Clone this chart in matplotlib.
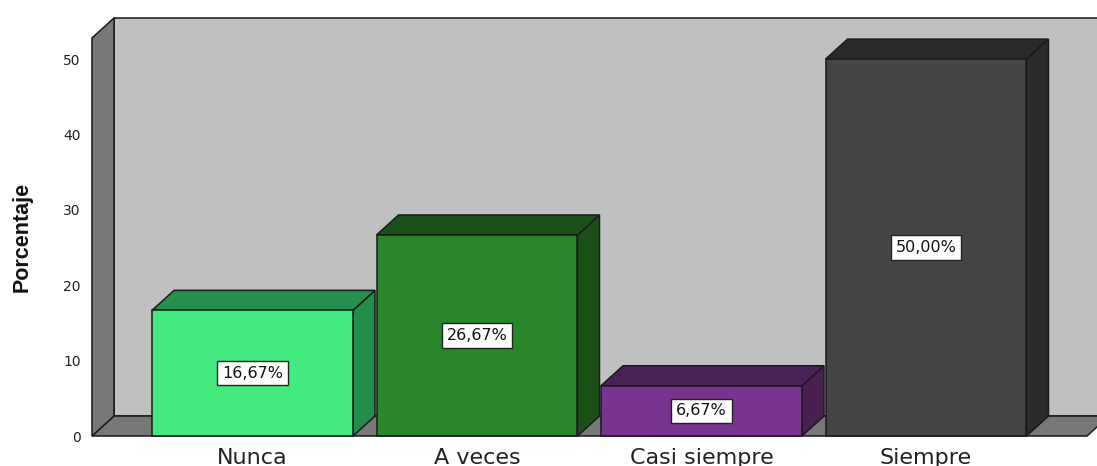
import matplotlib
matplotlib.use("Agg")
import matplotlib.pyplot as plt
from matplotlib.patches import Polygon, Rectangle
from matplotlib import font_manager

categories = ["Nunca", "A veces", "Casi siempre", "Siempre"]
values = [16.67, 26.67, 6.67, 50.00]
labels = ["16,67%", "26,67%", "6,67%", "50,00%"]
yticks = [0, 10, 20, 30, 40, 50]

front_colors = ["#41E97E", "#29862B", "#783590", "#454548"]
top_colors = ["#26914F", "#1B5119", "#4A2157", "#2A2A2A"]
side_colors = ["#238D4B", "#1A4F17", "#482050", "#2B2D2C"]

W, H = 1097, 466
fig = plt.figure(figsize=(W / 100, H / 100), dpi=100)
fig.patch.set_facecolor("white")

# front-plane of the axes in pixels
left_px, right_px, bottom_px, top_px = 92, 1087, 436, 38
ax = fig.add_axes([left_px / W, 1 - bottom_px / H,
                   (right_px - left_px) / W, (bottom_px - top_px) / H])

x0, x1 = -0.715, 3.717
ytop = 52.8
ax.set_xlim(x0, x1)
ax.set_ylim(0, ytop)

# depth offsets (data units)
DX = 22 / ((right_px - left_px) / (x1 - x0))
DY = 20 / ((bottom_px - top_px) / ytop)

edge = "#1a1a1a"
lw = 1.1

# back wall
ax.add_patch(Rectangle((x0 + DX, DY), (x1 - x0) + 1.0, ytop, facecolor="#C0C0C0",
                       edgecolor=edge, lw=lw, clip_on=False, zorder=1))
# floor
ax.add_patch(Polygon([(x0, 0), (x1, 0), (x1 + DX, DY), (x0 + DX, DY)],
                     closed=True, facecolor="#787878", edgecolor=edge, lw=lw,
                     clip_on=False, zorder=2))
# left wall
ax.add_patch(Polygon([(x0, 0), (x0, ytop), (x0 + DX, ytop + DY), (x0 + DX, DY)],
                     closed=True, facecolor="#787878", edgecolor=edge, lw=lw,
                     clip_on=False, zorder=2))

bw = 0.895
for i, (v, fc, tc, sc, lab) in enumerate(zip(values, front_colors, top_colors,
                                              side_colors, labels)):
    l, r = i - bw / 2, i + bw / 2
    ax.add_patch(Polygon([(r, 0), (r + DX, DY), (r + DX, v + DY), (r, v)],
                         closed=True, facecolor=sc, edgecolor=edge, lw=lw,
                         clip_on=False, zorder=3))
    ax.add_patch(Polygon([(l, v), (r, v), (r + DX, v + DY), (l + DX, v + DY)],
                         closed=True, facecolor=tc, edgecolor=edge, lw=lw,
                         clip_on=False, zorder=3))
    ax.add_patch(Rectangle((l, 0), bw, v, facecolor=fc, edgecolor=edge, lw=lw,
                           clip_on=False, zorder=4))
    ax.text(i, v / 2, lab, ha="center", va="center", fontsize=11.5,
            color="#111111", zorder=6, family="DejaVu Sans",
            bbox=dict(boxstyle="square,pad=0.3", facecolor="white",
                      edgecolor="#222222", lw=1.0))

for s in ax.spines.values():
    s.set_visible(False)
ax.patch.set_visible(False)

ax.set_yticks(yticks)
ax.set_yticklabels([str(t) for t in yticks], fontsize=10, color="#222222",
                   family="DejaVu Sans")
ax.set_xticks(range(len(categories)))
ax.set_xticklabels(categories, fontsize=16, color="#222222", family="DejaVu Sans")
ax.tick_params(axis="y", length=0, pad=8)
ax.tick_params(axis="x", length=0, pad=8.5)

names = {f.name for f in font_manager.fontManager.ttflist}
if "Liberation Sans Narrow" in names:
    yfam, ysize = "Liberation Sans Narrow", 17.5
else:
    yfam, ysize = "Liberation Sans", 15.5
ax.set_ylabel("Porcentaje", fontsize=ysize, fontweight="bold", family=yfam,
              color="#111111")
ax.yaxis.set_label_coords((33 - left_px) / (right_px - left_px), 0.5)

fig.savefig("out.png", dpi=100, facecolor="white")
